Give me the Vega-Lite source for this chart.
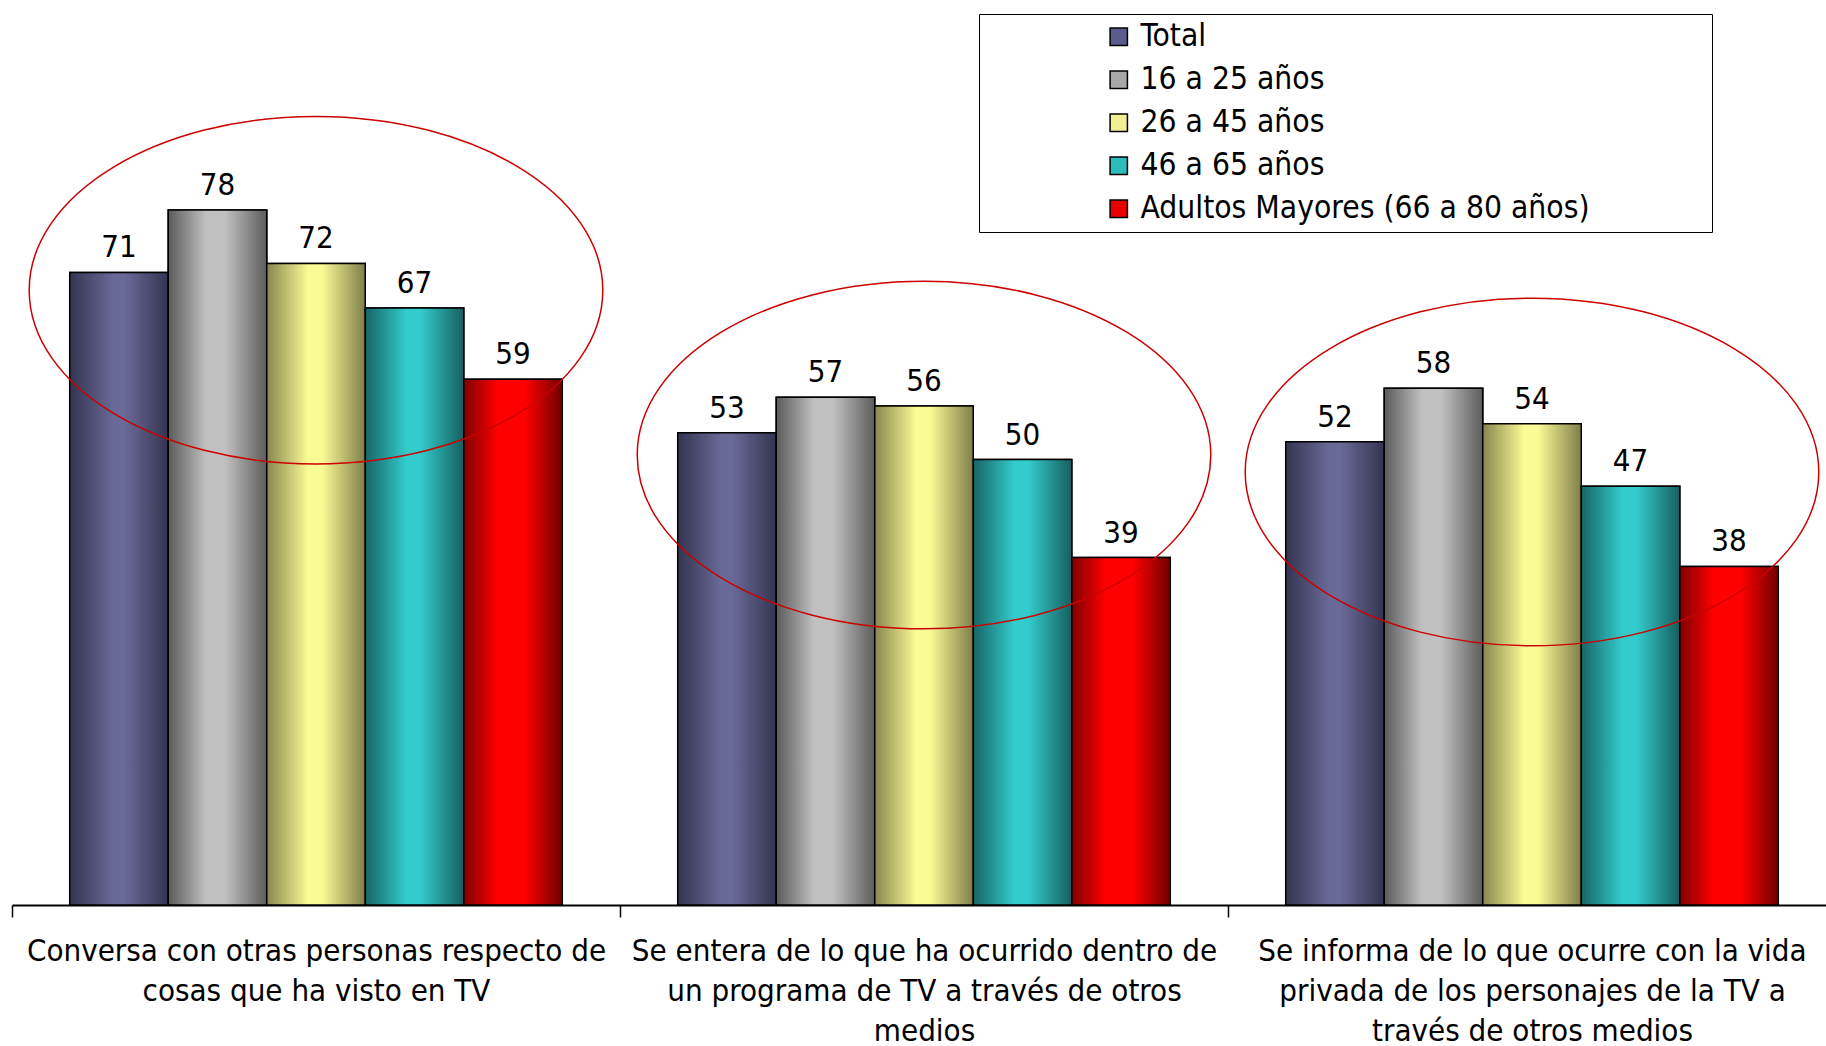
{
  "$schema": "https://vega.github.io/schema/vega-lite/v6.json",
  "width": 1824,
  "height": 891,
  "autosize": {"type": "none"},
  "padding": {"left": 12, "top": 14, "right": -10, "bottom": 141},
  "background": "#ffffff",
  "config": {
    "view": {"stroke": null},
    "font": "DejaVu Sans Condensed, DejaVu Sans"
  },
  "datasets": {
    "bars": [
      {"actividad": "Conversa con otras personas respecto de cosas que ha visto en TV", "grupo": "Total", "valor": 71},
      {"actividad": "Conversa con otras personas respecto de cosas que ha visto en TV", "grupo": "16 a 25 años", "valor": 78},
      {"actividad": "Conversa con otras personas respecto de cosas que ha visto en TV", "grupo": "26 a 45 años", "valor": 72},
      {"actividad": "Conversa con otras personas respecto de cosas que ha visto en TV", "grupo": "46 a 65 años", "valor": 67},
      {"actividad": "Conversa con otras personas respecto de cosas que ha visto en TV", "grupo": "Adultos Mayores (66 a 80 años)", "valor": 59},
      {"actividad": "Se entera de lo que ha ocurrido dentro de un programa de TV a través de otros medios", "grupo": "Total", "valor": 53},
      {"actividad": "Se entera de lo que ha ocurrido dentro de un programa de TV a través de otros medios", "grupo": "16 a 25 años", "valor": 57},
      {"actividad": "Se entera de lo que ha ocurrido dentro de un programa de TV a través de otros medios", "grupo": "26 a 45 años", "valor": 56},
      {"actividad": "Se entera de lo que ha ocurrido dentro de un programa de TV a través de otros medios", "grupo": "46 a 65 años", "valor": 50},
      {"actividad": "Se entera de lo que ha ocurrido dentro de un programa de TV a través de otros medios", "grupo": "Adultos Mayores (66 a 80 años)", "valor": 39},
      {"actividad": "Se informa de lo que ocurre con la vida privada de los personajes de la TV a través de otros medios", "grupo": "Total", "valor": 52},
      {"actividad": "Se informa de lo que ocurre con la vida privada de los personajes de la TV a través de otros medios", "grupo": "16 a 25 años", "valor": 58},
      {"actividad": "Se informa de lo que ocurre con la vida privada de los personajes de la TV a través de otros medios", "grupo": "26 a 45 años", "valor": 54},
      {"actividad": "Se informa de lo que ocurre con la vida privada de los personajes de la TV a través de otros medios", "grupo": "46 a 65 años", "valor": 47},
      {"actividad": "Se informa de lo que ocurre con la vida privada de los personajes de la TV a través de otros medios", "grupo": "Adultos Mayores (66 a 80 años)", "valor": 38}
    ],
    "elipses": [
      {"actividad": "Conversa con otras personas respecto de cosas que ha visto en TV", "centro": 69.0},
      {"actividad": "Se entera de lo que ha ocurrido dentro de un programa de TV a través de otros medios", "centro": 50.5},
      {"actividad": "Se informa de lo que ocurre con la vida privada de los personajes de la TV a través de otros medios", "centro": 48.6}
    ]
  },
  "encoding": {
    "x": {
      "field": "actividad", "type": "nominal", "sort": null,
      "scale": {"paddingInner": 0, "paddingOuter": 0},
      "axis": {
        "title": null,
        "orient": "bottom",
        "domainColor": "#000000",
        "domainWidth": 1.8,
        "ticks": true,
        "tickBand": "extent",
        "tickColor": "#000000",
        "tickWidth": 1.5,
        "tickSize": 12,
        "labelAngle": 0,
        "labelFontSize": 31,
        "labelColor": "#000000",
        "labelLineHeight": 40,
        "labelPadding": 19,
        "labelLimit": 800,
        "labelBaseline": "top",
        "labelExpr": "datum.value == 'Conversa con otras personas respecto de cosas que ha visto en TV' ? ['Conversa con otras personas respecto de', 'cosas que ha visto en TV'] : datum.value == 'Se entera de lo que ha ocurrido dentro de un programa de TV a través de otros medios' ? ['Se entera de lo que ha ocurrido dentro de', 'un programa de TV a través de otros', 'medios'] : datum.value == 'Se informa de lo que ocurre con la vida privada de los personajes de la TV a través de otros medios' ? ['Se informa de lo que ocurre con la vida', 'privada de los personajes de la TV a', 'través de otros medios'] : ''"
      }
    }
  },
  "layer": [
    {
      "data": {"name": "bars"},
      "mark": {"type": "bar", "stroke": "#000000", "strokeWidth": 1.5},
      "encoding": {
        "xOffset": {
          "field": "grupo", "type": "nominal",
          "sort": ["Total", "16 a 25 años", "26 a 45 años", "46 a 65 años", "Adultos Mayores (66 a 80 años)"],
          "scale": {"domain": ["Total", "16 a 25 años", "26 a 45 años", "46 a 65 años", "Adultos Mayores (66 a 80 años)"], "paddingInner": 0, "paddingOuter": 0.586}
        },
        "y": {"field": "valor", "type": "quantitative", "scale": {"domain": [0, 100]}, "axis": null},
        "color": {
          "field": "grupo", "type": "nominal",
          "sort": ["Total", "16 a 25 años", "26 a 45 años", "46 a 65 años", "Adultos Mayores (66 a 80 años)"],
          "scale": {
            "domain": ["Total", "16 a 25 años", "26 a 45 años", "46 a 65 años", "Adultos Mayores (66 a 80 años)"],
            "range": ["#5c5c8c", "#a8a8a8", "#f0f090", "#2cbcbc", "#e80000"]
          },
          "legend": {
            "orient": "none",
            "legendX": 967,
            "legendY": 0,
            "title": " ",
            "titleOrient": "right",
            "titlePadding": 116,
            "titleFontSize": 10,
            "strokeColor": "#000000",
            "fillColor": "#ffffff",
            "padding": 7,
            "symbolType": "square",
            "symbolSize": 300,
            "symbolStrokeColor": "#000000",
            "symbolStrokeWidth": 1.5,
            "symbolOffset": 117,
            "labelFontSize": 31.5,
            "labelColor": "#000000",
            "labelOffset": 6,
            "labelLimit": 800,
            "rowPadding": 10
          }
        }
      }
    },
    {
      "data": {"name": "bars"},
      "transform": [{"filter": "datum.grupo == 'Total'"}],
      "mark": {"type": "bar", "stroke": "#000000", "strokeWidth": 1.5,
        "color": {"gradient": "linear", "x1": 0, "y1": 0, "x2": 1, "y2": 0, "stops": [{"offset": 0, "color": "#343450"}, {"offset": 0.45, "color": "#6a6a98"}, {"offset": 0.55, "color": "#6a6a98"}, {"offset": 1, "color": "#343450"}]}},
      "encoding": {
        "xOffset": {"field": "grupo", "type": "nominal"},
        "y": {"field": "valor", "type": "quantitative"}
      }
    },
    {
      "data": {"name": "bars"},
      "transform": [{"filter": "datum.grupo == '16 a 25 años'"}],
      "mark": {"type": "bar", "stroke": "#000000", "strokeWidth": 1.5,
        "color": {"gradient": "linear", "x1": 0, "y1": 0, "x2": 1, "y2": 0, "stops": [{"offset": 0, "color": "#5a5a5a"}, {"offset": 0.38, "color": "#c0c0c0"}, {"offset": 0.58, "color": "#c0c0c0"}, {"offset": 1, "color": "#5c5c5c"}]}},
      "encoding": {
        "xOffset": {"field": "grupo", "type": "nominal"},
        "y": {"field": "valor", "type": "quantitative"}
      }
    },
    {
      "data": {"name": "bars"},
      "transform": [{"filter": "datum.grupo == '26 a 45 años'"}],
      "mark": {"type": "bar", "stroke": "#000000", "strokeWidth": 1.5,
        "color": {"gradient": "linear", "x1": 0, "y1": 0, "x2": 1, "y2": 0, "stops": [{"offset": 0, "color": "#86864e"}, {"offset": 0.42, "color": "#fbfb96"}, {"offset": 0.56, "color": "#fbfb96"}, {"offset": 1, "color": "#7e7e4a"}]}},
      "encoding": {
        "xOffset": {"field": "grupo", "type": "nominal"},
        "y": {"field": "valor", "type": "quantitative"}
      }
    },
    {
      "data": {"name": "bars"},
      "transform": [{"filter": "datum.grupo == '46 a 65 años'"}],
      "mark": {"type": "bar", "stroke": "#000000", "strokeWidth": 1.5,
        "color": {"gradient": "linear", "x1": 0, "y1": 0, "x2": 1, "y2": 0, "stops": [{"offset": 0, "color": "#186464"}, {"offset": 0.42, "color": "#33cccc"}, {"offset": 0.56, "color": "#33cccc"}, {"offset": 1, "color": "#175e5e"}]}},
      "encoding": {
        "xOffset": {"field": "grupo", "type": "nominal"},
        "y": {"field": "valor", "type": "quantitative"}
      }
    },
    {
      "data": {"name": "bars"},
      "transform": [{"filter": "datum.grupo == 'Adultos Mayores (66 a 80 años)'"}],
      "mark": {"type": "bar", "stroke": "#000000", "strokeWidth": 1.5,
        "color": {"gradient": "linear", "x1": 0, "y1": 0, "x2": 1, "y2": 0, "stops": [{"offset": 0, "color": "#800000"}, {"offset": 0.35, "color": "#ff0000"}, {"offset": 0.62, "color": "#ff0000"}, {"offset": 1, "color": "#700000"}]}},
      "encoding": {
        "xOffset": {"field": "grupo", "type": "nominal"},
        "y": {"field": "valor", "type": "quantitative"}
      }
    },
    {
      "data": {"name": "bars"},
      "mark": {"type": "text", "dy": -15, "fontSize": 31, "baseline": "alphabetic", "color": "#000000"},
      "encoding": {
        "xOffset": {"field": "grupo", "type": "nominal"},
        "y": {"field": "valor", "type": "quantitative"},
        "text": {"field": "valor", "type": "quantitative"}
      }
    },
    {
      "data": {"name": "elipses"},
      "mark": {
        "type": "point",
        "shape": "M -1 0 A 1 0.606 0 1 1 1 0 A 1 0.606 0 1 1 -1 0 Z",
        "size": 329000,
        "filled": false,
        "color": "#cc0000",
        "strokeWidth": 1.5,
        "opacity": 1
      },
      "encoding": {
        "y": {"field": "centro", "type": "quantitative"}
      }
    }
  ]
}
